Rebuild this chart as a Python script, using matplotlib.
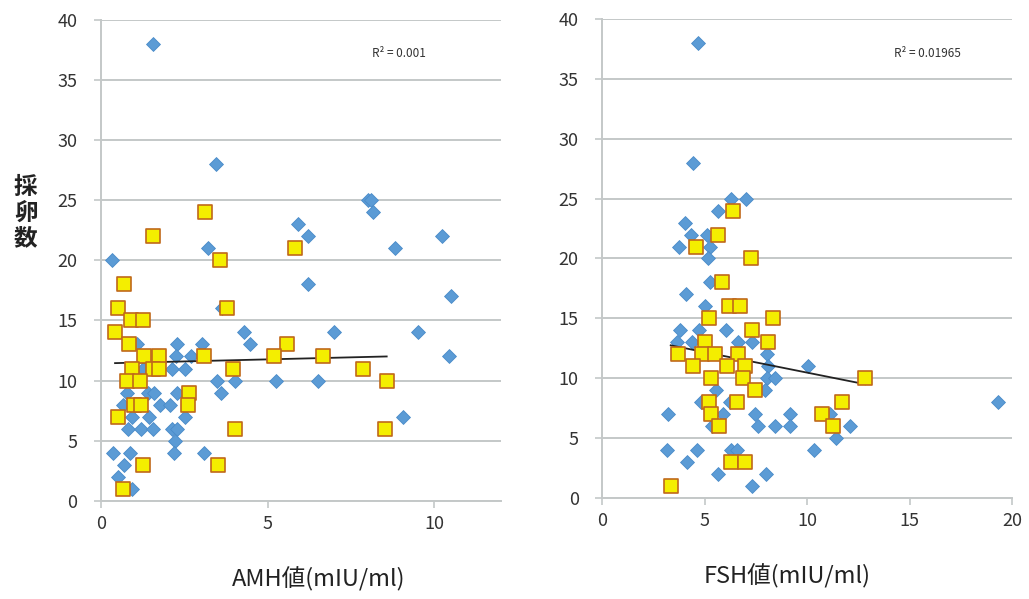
import numpy as np
import matplotlib.pyplot as plt

plt.rcParams['font.family'] = ['Noto Sans CJK JP', 'DejaVu Sans']

# --- AMH panel data ---
amh_blue_x = [1.55, 3.45, 8.0, 8.1, 8.17, 5.9, 6.22, 10.24, 3.22, 8.82, 0.32, 6.22, 10.5, 3.62,
              7.0, 9.5, 4.3, 4.48, 1.07, 2.27, 3.02, 10.43, 2.24, 2.7, 1.27, 2.12, 2.52, 5.25,
              6.5, 3.47, 4.02, 0.77, 1.42, 1.6, 2.27, 3.6, 0.67, 1.77, 2.07, 0.92, 1.45, 2.52,
              9.07, 0.8, 1.2, 1.57, 2.14, 2.27, 2.22, 0.37, 0.87, 2.19, 3.1, 0.7, 0.52, 0.92]
amh_blue_y = [38, 28, 25, 25, 24, 23, 22, 22, 21, 21, 20, 18, 17, 16,
              14, 14, 14, 13, 13, 13, 13, 12, 12, 12, 11, 11, 11, 10,
              10, 10, 10, 9, 9, 9, 9, 9, 8, 8, 8, 7, 7, 7,
              7, 6, 6, 6, 6, 6, 5, 4, 4, 4, 4, 3, 2, 1]
amh_yellow_x = [3.12, 1.57, 5.82, 3.57, 0.69, 0.52, 3.77, 0.9, 1.25, 0.42, 0.84, 5.57, 1.3,
                1.74, 3.1, 5.2, 6.67, 0.92, 1.57, 1.74, 3.97, 7.85, 0.77, 1.17, 8.57, 2.65,
                1.0, 1.2, 2.62, 0.5, 4.02, 8.53, 1.25, 3.52, 0.67]
amh_yellow_y = [24, 22, 21, 20, 18, 16, 16, 15, 15, 14, 13, 13, 12,
                12, 12, 12, 12, 11, 11, 11, 11, 11, 10, 10, 10, 9,
                8, 8, 8, 7, 6, 6, 3, 3, 1]
amh_trend = (0.068, 11.42)  # slope, intercept
amh_r2 = 'R² = 0.001'

# --- FSH panel data ---
fsh_blue_x = [4.66, 4.41, 6.28, 7.02, 5.67, 4.04, 4.35, 5.1, 3.73, 5.26, 5.15, 5.26, 4.1, 5.01,
              3.8, 4.7, 6.05, 3.67, 4.37, 6.64, 7.29, 8.05, 8.1, 10.05, 8.03, 8.42, 5.55, 7.95,
              4.8, 6.23, 3.19, 5.87, 7.46, 9.15, 11.1, 7.6, 8.42, 9.15, 12.09, 11.41, 3.14,
              4.61, 6.3, 6.6, 10.32, 4.12, 5.67, 7.99, 7.29, 19.34, 5.34]
fsh_blue_y = [38, 28, 25, 25, 24, 23, 22, 22, 21, 21, 20, 18, 17, 16,
              14, 14, 14, 13, 13, 13, 13, 12, 11, 11, 10, 10, 9, 9,
              8, 8, 7, 7, 7, 7, 7, 6, 6, 6, 6, 5, 4,
              4, 4, 4, 4, 3, 2, 2, 1, 8, 6]
fsh_yellow_x = [6.4, 5.67, 4.56, 7.25, 5.83, 6.19, 6.72, 5.22, 8.35, 7.32, 5.01, 8.1, 3.71,
                4.85, 5.5, 6.64, 4.44, 6.07, 6.97, 5.31, 6.89, 12.83, 7.46, 5.21, 6.56, 11.72,
                5.29, 10.71, 5.7, 11.28, 6.27, 6.97, 3.34]
fsh_yellow_y = [24, 22, 21, 20, 18, 16, 16, 15, 15, 14, 13, 13, 12,
                12, 12, 12, 11, 11, 11, 10, 10, 10, 9, 8, 8, 8,
                7, 7, 6, 6, 3, 3, 1]
fsh_trend = (-0.342, 13.89)
fsh_r2 = 'R² = 0.01965'

y_ticks = [0, 5, 10, 15, 20, 25, 30, 35, 40]

fig = plt.figure(figsize=(10.29, 5.99), dpi=100)
ax1 = fig.add_axes([0.0982, 0.1641, 0.3887, 0.8025])
ax2 = fig.add_axes([0.5853, 0.1686, 0.3982, 0.7997])

grid_col = '#c4c8c8'


def draw_panel(ax, bx, by, yx, yy, trend, r2, r2_pos, r2_style, xmax, xticks, xlabel, xlab_x):
    ax.scatter(bx, by, marker='D', s=50, color='#5b9bd5', edgecolor='#4a8bc9',
               linewidth=0.6, zorder=3)
    yx = np.array(yx)
    tx = np.array([yx.min(), yx.max()])
    ax.plot(tx, trend[0] * tx + trend[1], color='#222222', lw=1.3, zorder=4)
    ax.scatter(yx, yy, marker='s', s=110, color='#f4ee00', edgecolor='#c0681a',
               linewidth=1.2, zorder=5)
    ax.text(r2_pos[0], r2_pos[1], r2, fontsize=8.5, style=r2_style, color='#333333',
            ha='center', va='center')

    ax.set_xlim(0, xmax)
    ax.set_ylim(0, 40)
    ax.set_yticks(y_ticks)
    ax.set_xticks(xticks)
    ax.grid(axis='y', color=grid_col, lw=1.4)
    ax.set_axisbelow(True)
    for s in ['top', 'right']:
        ax.spines[s].set_visible(False)
    for s in ['left', 'bottom']:
        ax.spines[s].set_color(grid_col)
        ax.spines[s].set_linewidth(1.4)
    ax.tick_params(axis='both', colors=grid_col, labelcolor='#333333', labelsize=13,
                   length=5, width=1.2)
    ax.tick_params(axis='y', pad=12)
    ax.tick_params(axis='x', pad=5)
    ax.set_xlabel(xlabel, fontsize=17, color='#222222')
    ax.xaxis.set_label_coords(xlab_x, -0.138)


draw_panel(ax1, amh_blue_x, amh_blue_y, amh_yellow_x, amh_yellow_y, amh_trend, amh_r2,
           (8.94, 37.2), 'italic', 12, [0, 5, 10], 'AMH値(mIU/ml)', 0.545)
draw_panel(ax2, fsh_blue_x, fsh_blue_y, fsh_yellow_x, fsh_yellow_y, fsh_trend, fsh_r2,
           (15.85, 37.1), 'normal', 20, [0, 5, 10, 15, 20], 'FSH値(mIU/ml)', 0.45)

fig.text(0.025, 0.645, '採\n卵\n数', fontsize=17, fontweight='bold', color='#222222',
         ha='center', va='center', linespacing=1.1)

fig.savefig('out.png', dpi=100)
